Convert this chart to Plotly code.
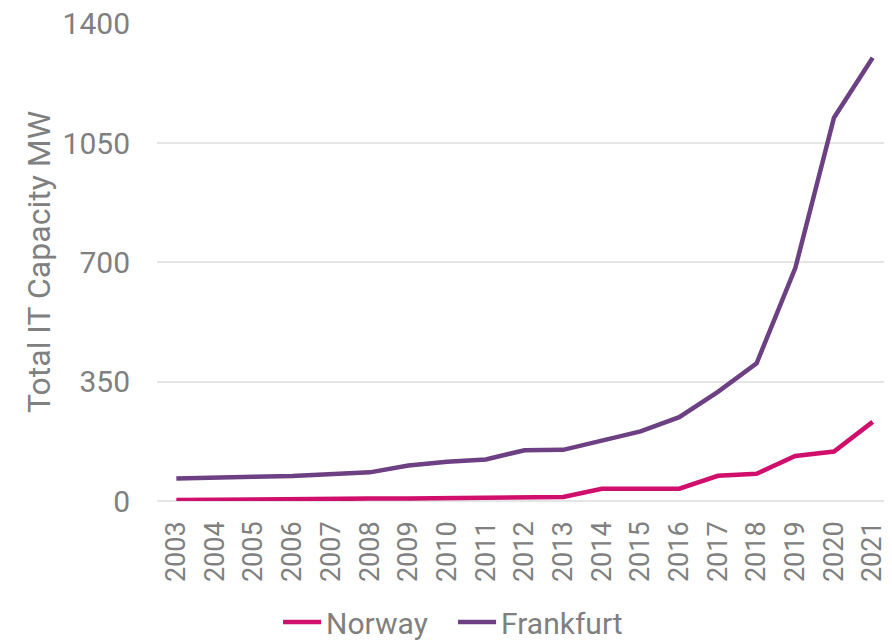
import plotly.graph_objects as go

years = [str(y) for y in range(2003, 2022)]
norway = [3, 4, 7, 7, 7, 7, 7, 8, 9, 11, 12, 36, 36, 36, 74, 80, 132, 145, 232]
frankfurt = [66, 67, 71, 73, 80, 84, 104, 115, 122, 149, 150, 177, 204, 246, 320, 404, 683, 1124, 1300]
y_ticks = [0, 350, 700, 1050, 1400]

GRAY = "#808080"
FONT = "Roboto"

fig = go.Figure()
fig.add_trace(go.Scatter(x=years, y=norway, name="Norway", mode="lines",
                         line=dict(color="#CF0F6B", width=4.5)))
fig.add_trace(go.Scatter(x=years, y=frankfurt, name="Frankfurt", mode="lines",
                         line=dict(color="#6C4083", width=4.5)))

# page body has an 8px margin, so the figure is drawn 8px smaller
fig.update_layout(
    width=884, height=632,
    margin=dict(l=149, r=0, t=15, b=139, autoexpand=False),
    paper_bgcolor="white", plot_bgcolor="white",
    font=dict(family=FONT, color=GRAY, size=28),
    showlegend=True,
    legend=dict(orientation="h", xref="container", x=0.3055, xanchor="left",
                yref="container", y=0.0285, yanchor="middle",
                font=dict(size=30, color=GRAY), itemwidth=38,
                entrywidth=122, tracegroupgap=0),
    xaxis=dict(type="category", range=[-0.5, 18.5], tickangle=-90,
               showgrid=False, showline=False, ticks="", automargin=False,
               tickfont=dict(size=27, color=GRAY), ticklabelstandoff=14),
    yaxis=dict(range=[0, 1402], tickvals=y_ticks, showgrid=True, automargin=False,
               gridcolor="#E5E5E5", gridwidth=1.5, zeroline=True,
               zerolinecolor="#E5E5E5", zerolinewidth=1.5, showline=False,
               ticklabeloverflow="allow",
               tickfont=dict(size=30, color=GRAY), ticklabelstandoff=26,
               title=dict(text="Total IT Capacity MW", standoff=2,
                          font=dict(size=32, color=GRAY))),
)

fig.write_html("out.html")
